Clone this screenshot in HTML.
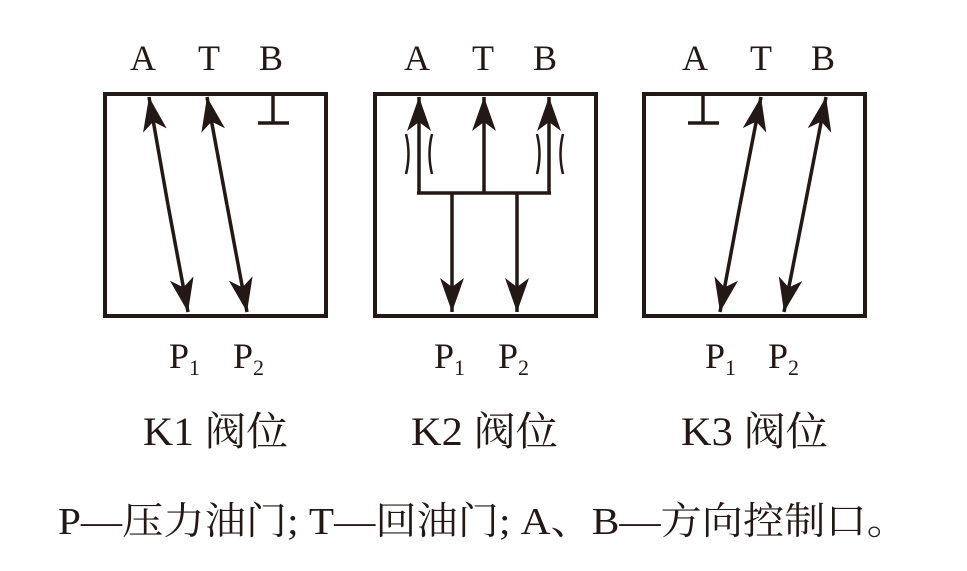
<!DOCTYPE html>
<html><head><meta charset="utf-8"><style>
html,body{margin:0;padding:0;background:#fff;}
svg{display:block;}
text{font-family:"Liberation Serif","Noto Serif CJK SC",serif;fill:#231815;}
</style></head><body>
<svg width="967" height="571" viewBox="0 0 967 571" xmlns="http://www.w3.org/2000/svg">
<defs>
<marker id="ah" viewBox="0 0 34 24" refX="34" refY="12" markerWidth="34" markerHeight="24" markerUnits="userSpaceOnUse" orient="auto">
<path d="M0,0 L34,12 L0,24 L9,12 Z" fill="#231815"/>
</marker>
</defs>
<g stroke="#231815" stroke-width="4" fill="none">
<rect x="105" y="94" width="221" height="222"/>
<rect x="375" y="94" width="221" height="222"/>
<rect x="644" y="94" width="221" height="222"/>
</g>
<g stroke="#231815" stroke-width="3.5" fill="none">
<line x1="168" y1="205" x2="149" y2="97" marker-end="url(#ah)"/>
<line x1="168" y1="205" x2="188" y2="312" marker-end="url(#ah)"/>
<line x1="227" y1="205" x2="207" y2="97" marker-end="url(#ah)"/>
<line x1="227" y1="205" x2="247" y2="312" marker-end="url(#ah)"/>
<line x1="273" y1="94" x2="273" y2="123"/>
<line x1="258" y1="123" x2="289" y2="123"/>
<line x1="419" y1="193" x2="419" y2="97" marker-end="url(#ah)"/>
<line x1="484" y1="193" x2="484" y2="97" marker-end="url(#ah)"/>
<line x1="549" y1="193" x2="549" y2="97" marker-end="url(#ah)"/>
<line x1="417" y1="193" x2="551" y2="193"/>
<line x1="452" y1="193" x2="452" y2="312" marker-end="url(#ah)"/>
<line x1="517" y1="193" x2="517" y2="312" marker-end="url(#ah)"/>
<line x1="740" y1="205" x2="761" y2="97" marker-end="url(#ah)"/>
<line x1="740" y1="205" x2="720" y2="312" marker-end="url(#ah)"/>
<line x1="805" y1="205" x2="826" y2="97" marker-end="url(#ah)"/>
<line x1="805" y1="205" x2="784" y2="312" marker-end="url(#ah)"/>
<line x1="703" y1="94" x2="703" y2="123"/>
<line x1="688" y1="123" x2="719" y2="123"/>
</g>
<g stroke="#231815" stroke-width="2.5" fill="none">
<path d="M406,134 Q411,154 406,174"/>
<path d="M432,134 Q427,154 432,174"/>
<path d="M537,134 Q542,154 537,174"/>
<path d="M563,134 Q558,154 563,174"/>
</g>
<g font-size="36">
<text x="130" y="70">A</text><text x="198" y="70">T</text><text x="259" y="70">B</text>
<text x="404" y="70">A</text><text x="472" y="70">T</text><text x="533" y="70">B</text>
<text x="682" y="70">A</text><text x="750" y="70">T</text><text x="811" y="70">B</text>
</g>
<g font-size="36">
<text x="169" y="368">P<tspan font-size="22" dy="7">1</tspan></text>
<text x="233" y="368">P<tspan font-size="22" dy="7">2</tspan></text>
<text x="434" y="368">P<tspan font-size="22" dy="7">1</tspan></text>
<text x="498" y="368">P<tspan font-size="22" dy="7">2</tspan></text>
<text x="705" y="368">P<tspan font-size="22" dy="7">1</tspan></text>
<text x="768" y="368">P<tspan font-size="22" dy="7">2</tspan></text>
</g>
<g font-size="40">
<text x="143" y="445" textLength="145" lengthAdjust="spacingAndGlyphs">K1 阀位</text>
<text x="411" y="445" textLength="147" lengthAdjust="spacingAndGlyphs">K2 阀位</text>
<text x="681" y="445" textLength="147" lengthAdjust="spacingAndGlyphs">K3 阀位</text>
</g>
<text x="58" y="534" font-size="38" textLength="850" lengthAdjust="spacingAndGlyphs">P—压力油门; T—回油门; A、B—方向控制口。</text>
</svg>
</body></html>
